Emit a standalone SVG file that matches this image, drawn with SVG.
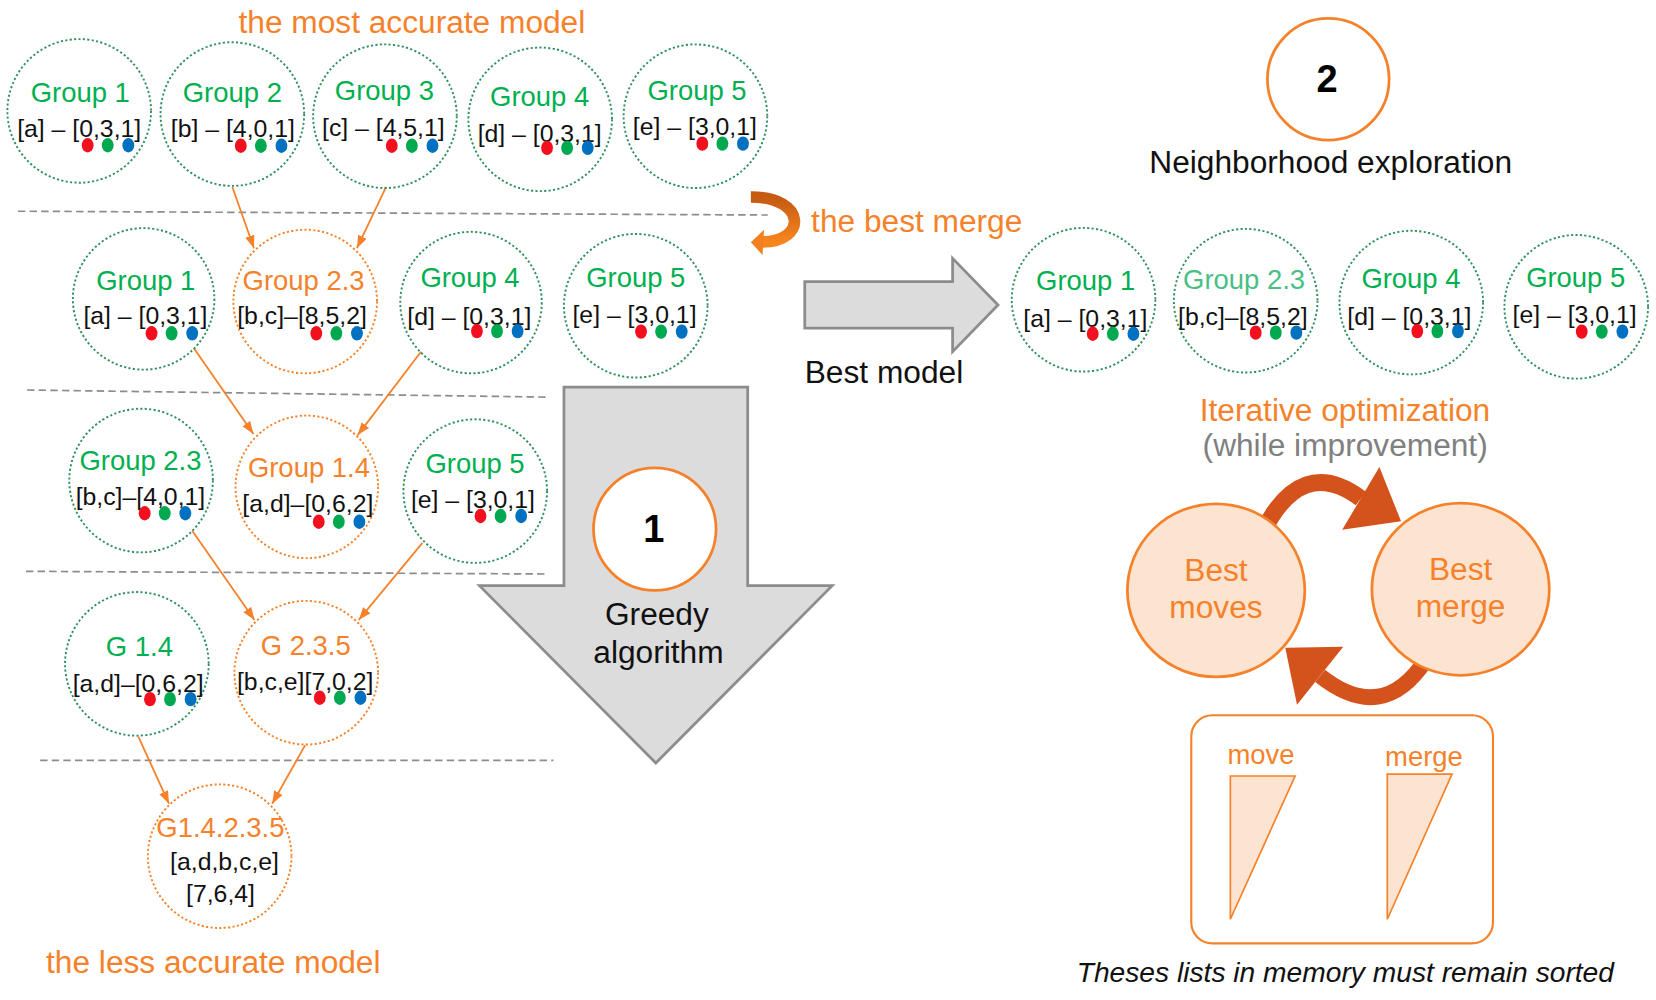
<svg xmlns="http://www.w3.org/2000/svg" xmlns:xlink="http://www.w3.org/1999/xlink" width="1656" height="1000" viewBox="0 0 1656 1000">
<style>
text{font-family:"Liberation Sans",Arial,Helvetica,sans-serif;}
.gc{fill:none;stroke:#2F8F5B;stroke-width:1.8;stroke-dasharray:2 2.2;}
.oc{fill:none;stroke:#F5822A;stroke-width:1.8;stroke-dasharray:2 2.2;}
.lbl{font-size:26px;text-anchor:middle;}
.g{fill:#00B050;}
.lg{fill:#48BF84;}
.o{fill:#F5822A;}
.br{font-size:23.5px;text-anchor:middle;fill:#111;}
.big{font-size:30px;}
.blk{fill:#111;}
.mid{text-anchor:middle;}
.dash{stroke:#8C8C8C;stroke-width:1.6;stroke-dasharray:7 4;fill:none;}
.conn{stroke:#F5822A;stroke-width:1.7;fill:none;marker-end:url(#ah);}
.num{font-size:36px;font-weight:bold;text-anchor:middle;fill:#000;}
.ring{fill:#fff;stroke:#F5822A;stroke-width:2.6;}
.garrow{fill:#DCDCDC;stroke:#8C8C8C;stroke-width:2.6;}
.peach{fill:#FCE4D0;stroke:#F5822A;stroke-width:2.6;}
.cycle{fill:none;stroke:#D4521C;}
</style>
<defs>
<marker id="ah" markerUnits="userSpaceOnUse" markerWidth="13" markerHeight="10" refX="12" refY="4.5" orient="auto">
<path d="M0,0 L12,4.5 L0,9 z" fill="#F5822A"/>
</marker>
<g id="dots">
<ellipse cx="0" cy="0" rx="5.6" ry="6.8" fill="#F2101E"/>
<ellipse cx="19" cy="0" rx="5.6" ry="6.8" fill="#00A94F"/>
<ellipse cx="38.5" cy="0" rx="5.6" ry="6.8" fill="#0070C0"/>
</g>
<linearGradient id="curl" x1="0" y1="0" x2="0" y2="1">
<stop offset="0" stop-color="#C55A11"/>
<stop offset="1" stop-color="#F7861F"/>
</linearGradient>
</defs>
<rect width="1656" height="1000" fill="#fff"/>
<g transform="scale(1.0561)">

<!-- separators and big arrows -->
<g id="separators">
<line class="dash" x1="17" y1="200" x2="727" y2="203.6"/>
<line class="dash" x1="25.6" y1="369.3" x2="518" y2="376"/>
<line class="dash" x1="24.6" y1="541" x2="517" y2="543.5"/>
<line class="dash" x1="38" y1="720" x2="524" y2="720"/>
</g>

<g id="greedy-arrow">
<polygon class="garrow" points="534,366.5 708,366.5 708,554.6 788,554.6 621,722.5 454,554.6 534,554.6"/>
<circle class="ring" cx="620" cy="501" r="58"/>
<text class="num" x="619" y="513">1</text>
<text class="big blk mid" x="622" y="592">Greedy</text>
<text class="big blk mid" x="623.5" y="628">algorithm</text>
</g>

<g id="best-model-arrow">
<polygon class="garrow" points="762,266.7 902,266.7 902,244.6 945,288.8 902,333 902,310.8 762,310.8"/>
<text class="big blk" x="762" y="363">Best model</text>
</g>

<g id="best-merge-curl">
<path d="M711,186.5 C764,186.5 764,229 722,229" fill="none" stroke="url(#curl)" stroke-width="11"/>
<polygon points="711,229.4 723.5,217.5 722,241.5" fill="#F47F20"/>
<text class="big o" x="768" y="219.4">the best merge</text>
</g>

<text class="big o mid" x="390" y="31.5">the most accurate model</text>
<text class="big o" x="43.6" y="921.6">the less accurate model</text>

<!-- connectors -->
<g id="connectors">
<line class="conn" x1="220" y1="177" x2="240.5" y2="235"/>
<line class="conn" x1="365.6" y1="177" x2="338" y2="235"/>
<line class="conn" x1="183.6" y1="329.7" x2="240" y2="411"/>
<line class="conn" x1="398.6" y1="333" x2="338.7" y2="412"/>
<line class="conn" x1="182" y1="502.5" x2="241" y2="587"/>
<line class="conn" x1="400" y1="514" x2="339.7" y2="587"/>
<line class="conn" x1="131" y1="697.5" x2="160" y2="761"/>
<line class="conn" x1="289" y1="705.5" x2="257.7" y2="761"/>
</g>

<!-- row 1 -->
<g id="r1-group1">
<circle class="gc" cx="75" cy="105" r="68"/>
<text class="lbl g" x="76" y="96.5">Group 1</text>
<text class="br" x="75" y="129.5">[a] – [0,3,1]</text>
<use xlink:href="#dots" x="83" y="137.5"/>
</g>
<g id="r1-group2">
<circle class="gc" cx="220" cy="108" r="68"/>
<text class="lbl g" x="220" y="96.5">Group 2</text>
<text class="br" x="220.5" y="129.5">[b] – [4,0,1]</text>
<use xlink:href="#dots" x="228" y="138"/>
</g>
<g id="r1-group3">
<circle class="gc" cx="364.5" cy="110" r="68"/>
<text class="lbl g" x="364" y="94.7">Group 3</text>
<text class="br" x="363" y="128.8">[c] – [4,5,1]</text>
<use xlink:href="#dots" x="371" y="138"/>
</g>
<g id="r1-group4">
<circle class="gc" cx="511.5" cy="113" r="68"/>
<text class="lbl g" x="511" y="100">Group 4</text>
<text class="br" x="511" y="134">[d] – [0,3,1]</text>
<use xlink:href="#dots" x="518" y="140"/>
</g>
<g id="r1-group5">
<circle class="gc" cx="658.5" cy="110" r="68"/>
<text class="lbl g" x="660" y="94.7">Group 5</text>
<text class="br" x="658" y="128">[e] – [3,0,1]</text>
<use xlink:href="#dots" x="665" y="136"/>
</g>

<!-- row 2 -->
<g id="r2-group1">
<circle class="gc" cx="136" cy="283" r="67"/>
<text class="lbl g" x="138" y="274.6">Group 1</text>
<text class="br" x="137.7" y="306.8">[a] – [0,3,1]</text>
<use xlink:href="#dots" x="143.5" y="315.6"/>
</g>
<g id="r2-group23">
<circle class="oc" cx="289" cy="285.5" r="68"/>
<text class="lbl o" x="287.5" y="274.6">Group 2.3</text>
<text class="br" x="286" y="307">[b,c]–[8,5,2]</text>
<use xlink:href="#dots" x="299.5" y="315.6"/>
</g>
<g id="r2-group4">
<circle class="gc" cx="446" cy="286.5" r="67"/>
<text class="lbl g" x="445" y="272">Group 4</text>
<text class="br" x="444.4" y="307.7">[d] – [0,3,1]</text>
<use xlink:href="#dots" x="451.6" y="313.5"/>
</g>
<g id="r2-group5">
<circle class="gc" cx="602" cy="289.5" r="68"/>
<text class="lbl g" x="602" y="271.5">Group 5</text>
<text class="br" x="600.8" y="306">[e] – [3,0,1]</text>
<use xlink:href="#dots" x="607" y="314"/>
</g>

<!-- row 3 -->
<g id="r3-group23">
<circle class="gc" cx="133.6" cy="455" r="68"/>
<text class="lbl g" x="133" y="445">Group 2.3</text>
<text class="br" x="133" y="478">[b,c]–[4,0,1]</text>
<use xlink:href="#dots" x="137" y="486"/>
</g>
<g id="r3-group14">
<circle class="oc" cx="290.5" cy="461" r="67.5"/>
<text class="lbl o" x="292.5" y="452">Group 1.4</text>
<text class="br" x="291.5" y="484.5">[a,d]–[0,6,2]</text>
<use xlink:href="#dots" x="301.8" y="494"/>
</g>
<g id="r3-group5">
<circle class="gc" cx="450" cy="465" r="68"/>
<text class="lbl g" x="449.8" y="447.6">Group 5</text>
<text class="br" x="447.8" y="480.7">[e] – [3,0,1]</text>
<use xlink:href="#dots" x="455" y="488.6"/>
</g>

<!-- row 4 -->
<g id="r4-g14">
<circle class="gc" cx="129.6" cy="628.6" r="68"/>
<text class="lbl g" x="132" y="621">G 1.4</text>
<text class="br" x="130.8" y="655">[a,d]–[0,6,2]</text>
<use xlink:href="#dots" x="142" y="662"/>
</g>
<g id="r4-g235">
<circle class="oc" cx="290" cy="637" r="68"/>
<text class="lbl o" x="289.5" y="620">G 2.3.5</text>
<text class="br" x="289" y="653.4">[b,c,e][7,0,2]</text>
<use xlink:href="#dots" x="302.8" y="660.7"/>
</g>

<!-- row 5 -->
<g id="r5-g14235">
<circle class="oc" cx="208" cy="810.7" r="68"/>
<text class="lbl o" x="208.7" y="792.7">G1.4.2.3.5</text>
<text class="br" x="212.6" y="823.8">[a,d,b,c,e]</text>
<text class="br" x="208.8" y="853.8">[7,6,4]</text>
</g>

<!-- right: step 2 -->
<g id="step2">
<circle class="ring" cx="1257.7" cy="75" r="57.6"/>
<text class="num" x="1256.5" y="86.8">2</text>
<text class="big blk mid" x="1260" y="164">Neighborhood exploration</text>
</g>

<g id="b-group1">
<circle class="gc" cx="1026" cy="283.8" r="68"/>
<text class="lbl g" x="1028" y="274.6">Group 1</text>
<text class="br" x="1027.7" y="309.3">[a] – [0,3,1]</text>
<use xlink:href="#dots" x="1034.7" y="316"/>
</g>
<g id="b-group23">
<circle class="gc" cx="1179.5" cy="284.7" r="68"/>
<text class="lbl lg" x="1178" y="274">Group 2.3</text>
<text class="br" x="1176.8" y="307.7">[b,c]–[8,5,2]</text>
<use xlink:href="#dots" x="1189" y="315"/>
</g>
<g id="b-group4">
<circle class="gc" cx="1336.3" cy="286.5" r="68"/>
<text class="lbl g" x="1336" y="273">Group 4</text>
<text class="br" x="1334.5" y="307.7">[d] – [0,3,1]</text>
<use xlink:href="#dots" x="1342" y="313.5"/>
</g>
<g id="b-group5">
<circle class="gc" cx="1492.5" cy="290.5" r="68"/>
<text class="lbl g" x="1492" y="272">Group 5</text>
<text class="br" x="1491" y="306">[e] – [3,0,1]</text>
<use xlink:href="#dots" x="1497.7" y="314"/>
</g>

<text class="big o mid" x="1273.5" y="398.7">Iterative optimization</text>
<text class="big mid" x="1273.7" y="432" fill="#808080">(while improvement)</text>

<g id="cycle-arrows">
<path class="cycle" d="M1195,505 Q1232,430 1288.5,472" stroke-width="16"/>
<polygon points="1326.6,493.5 1270.9,501.7 1306.1,442.2" fill="#D4521C"/>
<path class="cycle" d="M1350,625 Q1309,686.8 1250,640" stroke-width="15"/>
<polygon points="1217,613.4 1271.9,612.3 1228.1,667.3" fill="#D4521C"/>
</g>

<g id="best-moves">
<ellipse class="peach" cx="1151.5" cy="559" rx="84" ry="82"/>
<text class="big o mid" x="1151.4" y="550">Best</text>
<text class="big o mid" x="1151.4" y="585.3">moves</text>
</g>
<g id="best-merge">
<ellipse class="peach" cx="1383" cy="558" rx="84" ry="81.5"/>
<text class="big o mid" x="1383" y="549.2">Best</text>
<text class="big o mid" x="1383" y="584.6">merge</text>
</g>

<g id="memory-lists">
<rect x="1128" y="677.3" width="285.7" height="216" rx="20" fill="#fff" stroke="#F5822A" stroke-width="2"/>
<text class="o mid" x="1194" y="723.7" font-size="26">move</text>
<text class="o mid" x="1348.3" y="725.6" font-size="26">merge</text>
<polygon points="1165,734.8 1226.3,734.8 1165,870.4" fill="#FCE4D0" stroke="#F5822A" stroke-width="1.6"/>
<polygon points="1313.6,733 1374.9,733 1313.6,870.4" fill="#FCE4D0" stroke="#F5822A" stroke-width="1.6"/>
</g>
<text x="1019.5" y="930" font-size="26.7" font-style="italic" fill="#111">Theses lists in memory must remain sorted</text>
</g>
</svg>
